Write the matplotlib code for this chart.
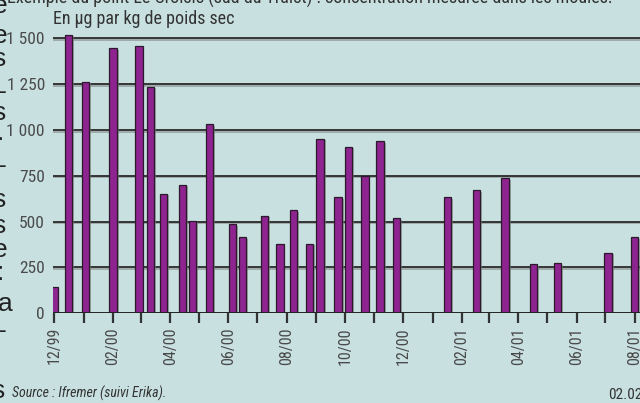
import matplotlib
matplotlib.use('Agg')
import matplotlib.pyplot as plt
import matplotlib.dates as mdates
import matplotlib.patheffects as pe
from matplotlib import font_manager as fm
from matplotlib.ticker import FuncFormatter
from datetime import datetime

# Prélèvements (date) et concentration mesurée (µg/kg poids sec)
dates = ['1999-12-01', '1999-12-16', '2000-01-03', '2000-02-01', '2000-02-28',
         '2000-03-11', '2000-03-25', '2000-04-14', '2000-04-24', '2000-05-12',
         '2000-06-05', '2000-06-16', '2000-07-09', '2000-07-25', '2000-08-08',
         '2000-08-25', '2000-09-05', '2000-09-24', '2000-10-05', '2000-10-22',
         '2000-11-07', '2000-11-24', '2001-01-17', '2001-02-16', '2001-03-18',
         '2001-04-17', '2001-05-12', '2001-07-04', '2001-08-01']
valeurs = [142, 1520, 1263, 1446, 1458, 1236, 651, 700, 505, 1031,
           486, 415, 532, 378, 562, 380, 951, 633, 907, 751,
           938, 518, 633, 671, 736, 267, 273, 329, 415]

yticks = [0, 250, 500, 750, 1000, 1250, 1500]
ylabels = ['0', '250', '500', '750', '1 000', '1 250', '1 500']

# bouts de texte de la colonne voisine (coupés au bord gauche)
marge_car = ['e', 'e', 's', 'L', 's', '.', '-', 's', 's', 'e', ':', 'a', '-', 's']
marge_y = [13, 43, 66, 93, 120, 140, 173, 207, 233, 257, 280, 311, 338, 398]
marge_x = [7, 7, 6, 7, 6, 4, 7, 6, 6, 7, 4, 13, 7, 5]

fond = '#C8E0E0'
violet = '#8E2490'

# police étroite : on prend ce qui est installé
noms = {f.name for f in fm.fontManager.ttflist}
etroite = None
for cand in ['Liberation Sans Narrow', 'Roboto Condensed', 'DejaVu Sans Condensed', 'Open Sans Condensed']:
    if cand in noms:
        etroite = cand
        break
if etroite is None:
    for f in fm.fontManager.ttflist:
        if f.stretch in ('condensed', 'semi-condensed', 'extra-condensed') or 'Condensed' in f.fname:
            etroite = f.name
            break
if etroite is None:
    etroite = 'DejaVu Sans'
narrow = dict(family=[etroite, 'DejaVu Sans'], stretch='condensed')

W, H = 640, 403
fig = plt.figure(figsize=(6.4, 4.03), dpi=100)
fig.patch.set_facecolor(fond)
ax = fig.add_axes([53 / W, 1 - 313.3 / H, 1 - 53 / W, (313.3 - 31) / H])
ax.set_facecolor(fond)

x = [datetime.strptime(d, '%Y-%m-%d') for d in dates]

# grille
for v in yticks[1:]:
    ax.axhline(v, color='#2a2a2a', lw=1.3, zorder=1,
               path_effects=[pe.SimpleLineShadow(offset=(0, -1.2), shadow_color='#808080', alpha=0.6),
                             pe.Normal()])

ax.bar(x, valeurs, width=7.8, color=violet, edgecolor='#2a1a2c', linewidth=0.9, zorder=2,
       path_effects=[pe.SimplePatchShadow(offset=(1.3, -1.0), shadow_rgbFace='#808080', alpha=0.6),
                     pe.Normal()])
ax.axhline(0, color='#222222', lw=1.4, zorder=3)

ax.set_ylim(0, 1540)
ax.set_xlim(datetime(1999, 11, 30), datetime(2001, 8, 6, 14))
for s in ax.spines.values():
    s.set_visible(False)

ax.set_yticks(yticks)
ax.set_yticklabels(ylabels, fontsize=12.5, color='#4a4a4a', **narrow)
ax.tick_params(axis='y', length=0, pad=5.8)

ax.xaxis.set_major_locator(mdates.MonthLocator())


def fmt(val, pos):
    d = mdates.num2date(val)
    return d.strftime('%m/%y') if d.month % 2 == 0 else ''


ax.xaxis.set_major_formatter(FuncFormatter(fmt))
ax.tick_params(axis='x', length=7, width=1.6, color='#333333', pad=3,
               labelrotation=90, labelsize=11.5, labelcolor='#4a4a4a')
for lab in ax.get_xticklabels():
    lab.set_family(narrow['family'])
    lab.set_stretch('condensed')

# textes
fig.text(7.3 / W, 1 - 3.5 / H,
         'Exemple du point Le Croisic (sud du Traict) : concentration mesurée dans les moules.',
         fontsize=13, color='#333333', va='baseline', **narrow)
fig.text(53.3 / W, 1 - 24.3 / H, 'En µg par kg de poids sec',
         fontsize=13, color='#333333', va='baseline', **narrow)
fig.text(12 / W, 1 - 398 / H, 'Source : Ifremer (suivi Erika).',
         style='italic', fontsize=10, color='#333333', va='baseline', **narrow)
fig.text(608 / W, 1 - 399 / H, '02.02',
         fontsize=11, color='#333333', va='baseline', **narrow)

for c, yy, xx in zip(marge_car, marge_y, marge_x):
    fig.text(xx / W, 1 - yy / H, c, family=['Liberation Sans', 'DejaVu Sans'],
             fontsize=19, color='#222222', ha='right', va='baseline')

fig.savefig('out.png', dpi=100, facecolor=fond)
